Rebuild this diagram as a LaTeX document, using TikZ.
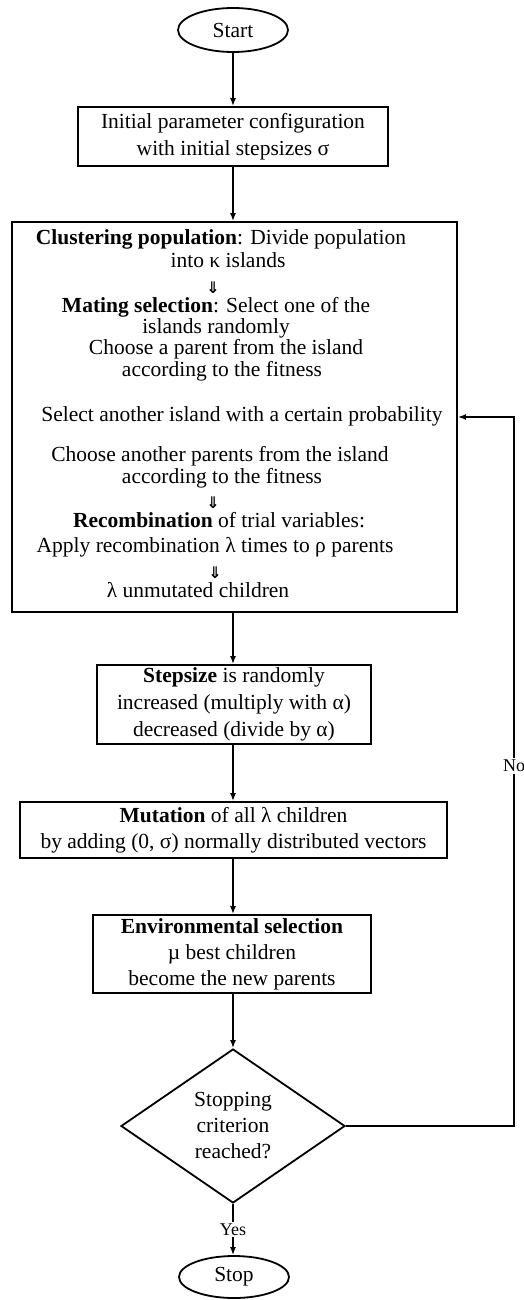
\documentclass[tikz,border=0pt]{standalone}
\usepackage{fontspec}
\setmainfont{Liberation Serif}
\newfontfamily\symfont{DejaVu Sans}
\usetikzlibrary{shapes.geometric,arrows.meta}
\begin{document}
\begin{tikzpicture}[x=1pt,y=-1pt,
  font=\fontsize{21.5}{26}\selectfont,
  every node/.style={inner sep=0pt},
  lw/.style={line width=1.8pt},
  proc/.style={draw,lw,rectangle,align=center},
  term/.style={draw,lw,ellipse,minimum width=110pt,minimum height=44pt},
  decis/.style={draw,lw,diamond,minimum width=224pt,minimum height=154pt,align=center},
  arr/.style={lw,-{Latex[length=8pt,width=6pt]}},
  ln/.style={anchor=base},
  dn/.style={font=\symfont\bfseries\fontsize{16}{16}\selectfont},
  lab/.style={fill=white,inner sep=2pt,font=\fontsize{18}{20}\selectfont}]
\useasboundingbox (0,0) rectangle (524,1300);

\node[term] (start) at (233,30) {Start};
\node[proc,minimum width=310pt,minimum height=59pt] (init) at (233,136.5)
  {Initial parameter configuration\\[1pt]with initial stepsizes σ};
\node[proc,minimum width=445pt,minimum height=390pt] (big) at (234.5,417) {};

\node[ln] (t1) at (221,244) {\textbf{Clustering population}: Divide population};
\node[ln] (t2) at (228,267) {into κ islands};
\node[dn] (d1) at (213,288) {⇓};
\node[ln] (t3) at (216,312) {\textbf{Mating selection}: Select one of the};
\node[ln] (t4) at (216,333) {islands randomly};
\node[ln] (t5) at (226,354) {Choose a parent from the island};
\node[ln] (t6) at (222,376) {according to the fitness};
\node[ln] (t7) at (242,421) {Select another island with a certain probability};
\node[ln] (t8) at (220,461) {Choose another parents from the island};
\node[ln] (t9) at (222,483) {according to the fitness};
\node[dn] (d2) at (213,503) {⇓};
\node[ln] (t10) at (219,527) {\textbf{Recombination} of trial variables:};
\node[ln] (t11) at (215,552) {Apply recombination λ times to ρ parents};
\node[dn] (d3) at (215,573) {⇓};
\node[ln] (t12) at (198,597) {λ unmutated children};

\node[proc,minimum width=274pt,minimum height=79pt] (step) at (234,704.5)
  {\textbf{Stepsize} is randomly\\[1pt]increased (multiply with α)\\[1pt]decreased (divide by α)};
\node[proc,minimum width=427pt,minimum height=56pt] (mut) at (233.5,830)
  {\textbf{Mutation} of all λ children\\by adding (0, σ) normally distributed vectors};
\node[proc,minimum width=278pt,minimum height=78pt] (env) at (232,954)
  {\textbf{Environmental selection}\\µ best children\\become the new parents};
\node[decis] (dec) at (233,1126) {Stopping\\criterion\\reached?};
\node[term,minimum height=42pt] (stop) at (234,1277) {Stop};

\coordinate (cr) at (514,1126);
\coordinate (ct) at (514,417);

\draw[arr] (start.south) -- (start.south |- init.north);
\draw[arr] (start.south |- init.south) -- (start.south |- big.north);
\draw[arr] (start.south |- big.south) -- (start.south |- step.north);
\draw[arr] (start.south |- step.south) -- (start.south |- mut.north);
\draw[arr] (start.south |- mut.south) -- (start.south |- env.north);
\draw[arr] (start.south |- env.south) -- (dec.north);
\draw[arr] (dec.south) -- node[lab] (yes) {Yes} (dec.south |- stop.north);
\draw[arr] (dec.east) -- (cr) -- node[lab,pos=0.508] (no) {No} (ct) -- (big.east);
\end{tikzpicture}
\end{document}
